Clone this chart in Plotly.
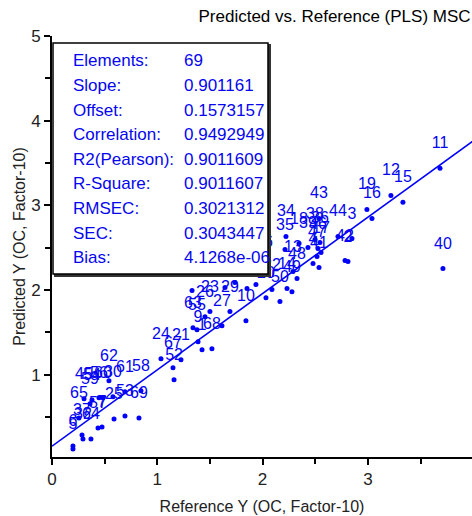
import plotly.graph_objects as go

# ---- data ----
sample_ids = [11, 12, 15, 19, 16, 40, 43, 44, 3, 42, 2,
              34, 35, 18, 39, 38, 36, 46, 47, 17, 4, 41, 13, 48, 14, 49, 50, 20, 66, 22,
              23, 29, 26, 27, 10, 63, 55, 9, 1, 68, 24, 21, 67, 52, 28, 31, 33, 8, 51,
              62, 45, 54, 59, 56, 60, 30, 65, 61, 58, 25, 53, 69, 37, 32, 57, 7, 64, 6, 5]
reference_y = [3.685, 3.219, 3.333, 2.991, 3.039, 3.713, 2.536, 2.716, 2.849, 2.783, 2.811,
               2.222, 2.213, 2.346, 2.431, 2.498, 2.545, 2.526, 2.517, 2.555, 2.479, 2.536,
               2.289, 2.327, 2.232, 2.279, 2.165, 2.032, 2.013, 2.089,
               1.500, 1.690, 1.453, 1.614, 1.842, 1.339, 1.377, 1.387, 1.425, 1.519,
               1.035, 1.225, 1.149, 1.159, 1.330, 1.643, 1.738, 1.852, 1.937,
               0.541, 0.304, 0.380, 0.361, 0.446, 0.484, 0.579, 0.256, 0.693, 0.845,
               0.589, 0.693, 0.826, 0.285, 0.294, 0.437, 0.475, 0.370, 0.199, 0.199]
predicted_y = [3.438, 3.118, 3.036, 2.953, 2.846, 2.254, 2.846, 2.633, 2.609, 2.349, 2.337,
               2.633, 2.479, 2.550, 2.503, 2.598, 2.562, 2.491, 2.396, 2.444, 2.314, 2.266,
               2.219, 2.136, 2.018, 1.982, 1.864, 1.911, 2.278, 2.006,
               1.746, 1.746, 1.686, 1.580, 1.639, 1.556, 1.533, 1.391, 1.296, 1.308,
               1.189, 1.178, 1.083, 0.941, 1.994, 2.030, 2.089, 2.018, 2.065,
               0.929, 0.716, 0.704, 0.657, 0.728, 0.728, 0.740, 0.491, 0.799, 0.811,
               0.479, 0.515, 0.491, 0.290, 0.243, 0.373, 0.385, 0.243, 0.160, 0.124]

slope = 0.901161
offset = 0.1573157
fit_x = [0.0, 4.0]

stat_names = ["Elements:", "Slope:", "Offset:", "Correlation:", "R2(Pearson):",
              "R-Square:", "RMSEC:", "SEC:", "Bias:"]
stat_values = ["69", "0.901161", "0.1573157", "0.9492949", "0.9011609",
               "0.9011607", "0.3021312", "0.3043447", "4.1268e-06"]

x_ticks = [0, 1, 2, 3]
y_ticks = [1, 2, 3, 4, 5]

BLUE = "#0000FF"
TXT_BLUE = "#0505F0"
FONT = "Liberation Sans, Arial, sans-serif"

# layout geometry (pixels)
W, H = 472, 516
ML, MR, MT, MB = 52, 0, 36, 59
PW, PH = W - ML - MR, H - MT - MB
X_RANGE = [0, 3.989]
Y_RANGE = [0.0296, 5.0]
px_per_y = PH / (Y_RANGE[1] - Y_RANGE[0])
label_dy = 24 / px_per_y

fig = go.Figure()

fig.add_trace(go.Scatter(
    x=fit_x, y=[slope * v + offset for v in fit_x], mode="lines",
    line=dict(color=BLUE, width=1.6), hoverinfo="skip", showlegend=False))

fig.add_trace(go.Scatter(
    x=reference_y, y=predicted_y, mode="markers",
    marker=dict(color=BLUE, size=5), showlegend=False))

fig.add_trace(go.Scatter(
    x=reference_y, y=[v + label_dy for v in predicted_y], mode="text",
    text=[str(s) for s in sample_ids], textposition="middle center",
    textfont=dict(family=FONT, size=16, color=TXT_BLUE), showlegend=False,
    hoverinfo="skip"))

def px_to_paper_x(px):
    return (px - ML) / PW

def px_to_paper_y(py):
    return (H - MB - py) / PH

# stats box with shadow
bx0, bx1, by0, by1 = 53, 268, 43, 274
fig.add_shape(type="rect", xref="paper", yref="paper", layer="above",
              x0=px_to_paper_x(bx0 + 2), x1=px_to_paper_x(bx1 + 2),
              y0=px_to_paper_y(by1 + 2), y1=px_to_paper_y(by0 + 2),
              line=dict(color="#333333", width=2), fillcolor="#333333")
fig.add_shape(type="rect", xref="paper", yref="paper", layer="above",
              x0=px_to_paper_x(bx0), x1=px_to_paper_x(bx1),
              y0=px_to_paper_y(by1), y1=px_to_paper_y(by0),
              line=dict(color="black", width=1.5), fillcolor="white")

row0, row_step = 61, 24.6
for i, (nm, val) in enumerate(zip(stat_names, stat_values)):
    yy = px_to_paper_y(row0 + i * row_step)
    fig.add_annotation(x=px_to_paper_x(71), y=yy, xref="paper", yref="paper",
                       text=nm, showarrow=False, xanchor="left", yanchor="middle",
                       font=dict(family=FONT, size=17, color=TXT_BLUE))
    fig.add_annotation(x=px_to_paper_x(182), y=yy, xref="paper", yref="paper",
                       text=val, showarrow=False, xanchor="left", yanchor="middle",
                       font=dict(family=FONT, size=17, color=TXT_BLUE))

axis_common = dict(
    showline=True, linecolor="black", linewidth=2, mirror=False,
    ticks="outside", ticklen=6, tickwidth=1.5, tickcolor="black",
    showgrid=False, zeroline=False,
    tickfont=dict(family=FONT, size=17, color="#222222"),
    minor=dict(dtick=0.5, ticks="outside", ticklen=5, tickwidth=1.5, tickcolor="black", showgrid=False),
)

fig.update_layout(
    width=W, height=H,
    margin=dict(l=ML, r=MR, t=MT, b=MB, pad=0),
    paper_bgcolor="white", plot_bgcolor="white",
    font=dict(family=FONT, color="#222222"),
    title=dict(text="Predicted vs. Reference (PLS) MSC", x=0.997, xanchor="right",
               xref="container", y=1 - 16 / H, yref="container", yanchor="middle",
               font=dict(family=FONT, size=17, color="black")),
    xaxis=dict(range=X_RANGE, tickvals=x_ticks, ticktext=[str(t) for t in x_ticks],
               title=dict(text="Reference Y (OC, Factor-10)", standoff=12,
                          font=dict(family=FONT, size=16, color="#222222")),
               **axis_common),
    yaxis=dict(range=Y_RANGE, tickvals=y_ticks, ticktext=[str(t) for t in y_ticks],
               title=dict(text="Predicted Y (OC, Factor-10)", standoff=2,
                          font=dict(family=FONT, size=16, color="#222222")),
               **axis_common),
)

fig.write_html("out.html")
